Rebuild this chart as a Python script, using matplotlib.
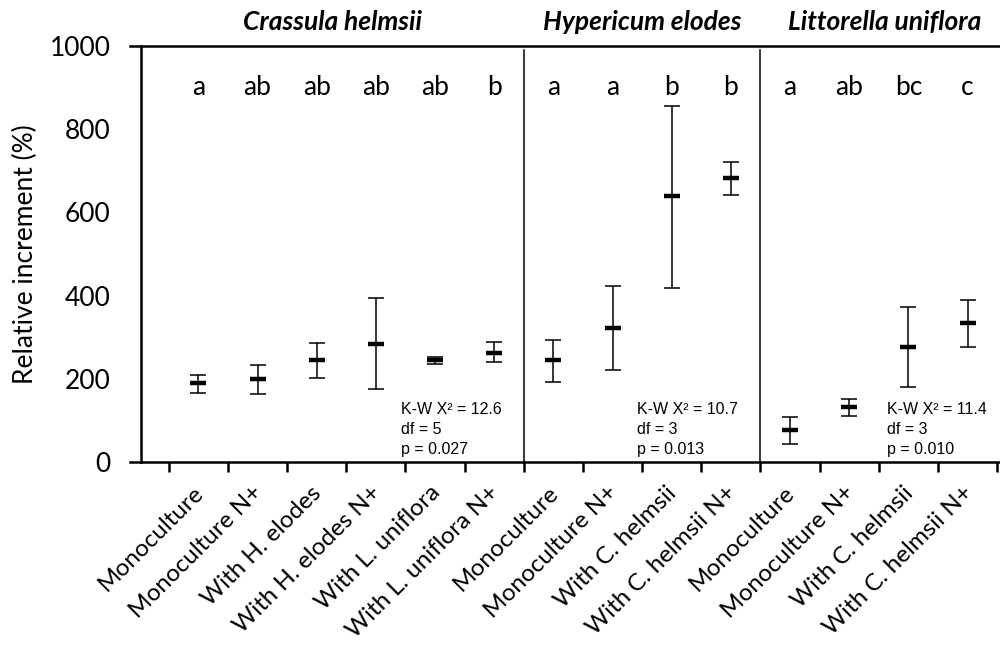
import matplotlib
matplotlib.use("Agg")
import matplotlib.pyplot as plt
import matplotlib.transforms as mtransforms

# data
labels = ["Monoculture", "Monoculture N+", "With H. elodes", "With H. elodes N+",
          "With L. uniflora", "With L. uniflora N+",
          "Monoculture", "Monoculture N+", "With C. helmsii", "With C. helmsii N+",
          "Monoculture", "Monoculture N+", "With C. helmsii", "With C. helmsii N+"]
medians = [189, 199, 245, 284, 245, 263,
           245, 323, 640, 683,
           77, 132, 276, 334]
upper = [209, 233, 287, 394, 253, 288,
         294, 424, 855, 720,
         109, 152, 372, 390]
lower = [165, 163, 201, 175, 235, 241,
         192, 220, 419, 643,
         43, 111, 180, 276]
letters = ["a", "ab", "ab", "ab", "ab", "b",
           "a", "a", "b", "b",
           "a", "ab", "bc", "c"]
groups = ["Crassula helmsii", "Hypericum elodes", "Littorella uniflora"]
group_title_x = [2.27, 7.5, 11.6]
separators = [5.5, 9.5]
stats = ["K-W X² = 12.6\ndf = 5\np = 0.027",
         "K-W X² = 10.7\ndf = 3\np = 0.013",
         "K-W X² = 11.4\ndf = 3\np = 0.010"]
stats_x = [3.42, 7.42, 11.64]

font = "Lato"

fig = plt.figure(figsize=(10, 6.46), dpi=100)
ax = fig.add_axes([0.141, 0.2848, 0.862, 0.644])

x = list(range(len(medians)))
yerr = [[m - l for m, l in zip(medians, lower)], [u - m for u, m in zip(upper, medians)]]
ax.errorbar(x, medians, yerr=yerr, fmt="none", ecolor="black", elinewidth=1.1,
            capsize=6, capthick=1.1)
ax.plot(x, medians, linestyle="none", marker="_", markersize=12, mew=3.2, color="black")

ax.set_xlim(-0.97, 13.6)
ax.set_ylim(0, 1000)

for s in separators:
    ax.plot([s, s], [0, 990], color="black", lw=1.1)

ax.spines["right"].set_visible(False)
for side in ["left", "bottom", "top"]:
    ax.spines[side].set_linewidth(1.8)

# the top and bottom lines poke out past the y axis
trans = mtransforms.blended_transform_factory(ax.transAxes, ax.transData)
for yv in [0, 1000]:
    ax.plot([-0.013, 0], [yv, yv], color="black", lw=1.8, transform=trans, clip_on=False)

ax.set_yticks([0, 200, 400, 600, 800, 1000])
ax.tick_params(axis="y", length=0, pad=22, labelsize=19)
for t in ax.get_yticklabels():
    t.set_fontfamily(font)

ax.set_xticks([i - 0.5 for i in range(15)])
ax.set_xticklabels([])
ax.tick_params(axis="x", direction="out", length=7, width=1.8)

for i, lab in enumerate(labels):
    ax.text(i - 0.1, -48, lab, rotation=45, ha="right", va="top", rotation_mode="anchor",
            fontsize=17.5, fontfamily=font)

for i, l in enumerate(letters):
    ax.text(i, 900, l, ha="center", va="center", fontsize=19, fontfamily=font)

for g, gx in zip(groups, group_title_x):
    ax.text(gx, 1030, g, ha="center", va="bottom", fontsize=19, fontweight="bold",
            fontstyle="italic", fontfamily=font, clip_on=False)

for s, sx in zip(stats, stats_x):
    ax.text(sx, 12, s, ha="left", va="bottom", fontsize=11.5, fontfamily="Liberation Sans",
            linespacing=1.4)

ax.set_ylabel("Relative increment (%)", fontsize=19, fontfamily=font, labelpad=8)

fig.savefig("out.png", dpi=100)
